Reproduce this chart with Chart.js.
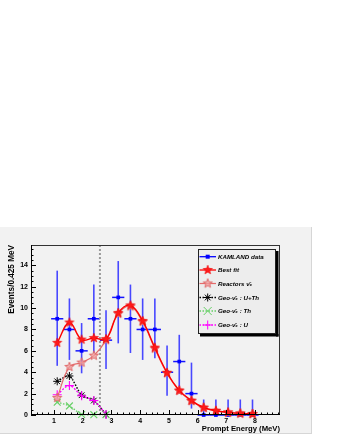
<!DOCTYPE html>
<html><head><meta charset="utf-8">
<script src="https://cdn.jsdelivr.net/npm/chart.js@4.4.0/dist/chart.umd.min.js"></script>
<style>html,body{margin:0;padding:0;background:#fff;}canvas{display:block;}</style>
</head><body>
<canvas id="c" width="337" height="436"></canvas>
<script>
// ---- data ----
const energy = [1.1125, 1.5375, 1.9625, 2.3875, 2.8125, 3.2375, 3.6625, 4.0875, 4.5125, 4.9375, 5.3625, 5.7875, 6.2125, 6.6375, 7.0625, 7.4875, 7.9125];
const binHalfWidth = 0.2125;
const kamlandData  = [9, 8, 6, 9, 7, 11, 9, 8, 8, 4, 5, 2, 0, 0, 0, 0, 0];
const kamlandUpper = [13.5, 10.9, 8.6, 12.2, 9.8, 14.4, 12.2, 10.9, 10.9, 6.5, 7.5, 4.9, 1.45, 1.45, 1.45, 1.45, 1.45];
const kamlandLower = [4.6, 5.15, 3.9, 5.8, 4.3, 6.7, 5.8, 5.15, 5.3, 1.8, 2.65, 0.6, 0, 0, 0, 0, 0];
const bestFit  = [6.75, 8.65, 7.05, 7.2, 7.1, 9.55, 10.25, 8.8, 6.3, 3.95, 2.3, 1.35, 0.7, 0.4, 0.25, 0.15, 0.1];
const reactors = [1.6, 4.5, 4.9, 5.55, 7.0, 9.45, 10.15, 8.7, 6.2, 3.9, 2.25, 1.3, 0.65, 0.38, 0.22, 0.13, 0.08];
const geoEnergy = [1.1125, 1.5375, 1.9625, 2.3875, 2.8125];
const geoUTh = [3.15, 3.65, 1.85, 1.35, 0.05];
const geoTh  = [1.2, 0.85, 0.05, 0.03, 0.03];
const geoU   = [1.9, 2.75, 1.8, 1.35, 0.05];
const thresholdEnergy = 2.6;
const xMin = 0.2, xMax = 8.87, yMin = 0, yMax = 15.9;
const legendLabels = ['KAMLAND data', 'Best fit', 'Reactors \u03BD\u0304\u2091', 'Geo-\u03BD\u0304\u2091 : U+Th', 'Geo-\u03BD\u0304\u2091 : Th', 'Geo-\u03BD\u0304\u2091 : U'];
const xTitle = 'Prompt Energy (MeV)';
const yTitle = 'Events/0.425 MeV';

const FONT = "'Liberation Sans', Arial, Helvetica, sans-serif";
const pts = (xs, ys) => xs.map((x, i) => ({x: x, y: ys[i]}));

function starCanvas(r, fill, stroke, lw) {
  const s = Math.ceil(r * 2 + 4);
  const c = document.createElement('canvas'); c.width = s; c.height = s;
  const g = c.getContext('2d');
  g.beginPath();
  for (let i = 0; i < 10; i++) {
    const rad = i % 2 === 0 ? r : r * 0.42;
    const a = -Math.PI / 2 + i * Math.PI / 5;
    const px = s / 2 + rad * Math.cos(a), py = s / 2 + rad * Math.sin(a);
    if (i === 0) g.moveTo(px, py); else g.lineTo(px, py);
  }
  g.closePath();
  g.fillStyle = fill; g.fill();
  if (stroke) { g.strokeStyle = stroke; g.lineWidth = lw; g.stroke(); }
  return c;
}
const redStar = starCanvas(4.8, '#ff1a1a', '#ee0000', 0.6);
const pinkStar = starCanvas(4.8, 'rgba(242,160,160,0.75)', '#e06a6a', 1);

const COL = {data: '#0000ff', fit: '#ff0000', reac: '#e46a6a', uth: '#000000', th: '#66d066', u: '#ff00ff', thr: '#9a9a9a'};

const bgPlugin = {
  id: 'bg',
  beforeDraw(chart) {
    const g = chart.ctx;
    g.save();
    g.fillStyle = '#ffffff'; g.fillRect(0, 0, chart.width, chart.height);
    g.fillStyle = '#f2f2f2'; g.fillRect(0, 227, 312, 207);
    g.strokeStyle = '#d6d6d6'; g.lineWidth = 1;
    g.beginPath(); g.moveTo(311.5, 227); g.lineTo(311.5, 434); g.moveTo(0, 433.5); g.lineTo(312, 433.5); g.stroke();
    g.restore();
  }
};

const errPlugin = {
  id: 'errbars',
  beforeDatasetsDraw(chart) {
    const g = chart.ctx, xs = chart.scales.x, ys = chart.scales.y;
    g.save();
    for (let i = 0; i < energy.length; i++) {
      const px = xs.getPixelForValue(energy[i]);
      g.strokeStyle = '#4848ff'; g.lineWidth = 1.6;
      g.beginPath(); g.moveTo(px, ys.getPixelForValue(kamlandLower[i])); g.lineTo(px, ys.getPixelForValue(kamlandUpper[i])); g.stroke();
      const py = ys.getPixelForValue(kamlandData[i]);
      g.strokeStyle = '#1414ff'; g.lineWidth = 1.5;
      g.beginPath(); g.moveTo(xs.getPixelForValue(energy[i] - binHalfWidth), py); g.lineTo(xs.getPixelForValue(energy[i] + binHalfWidth), py); g.stroke();
    }
    g.restore();
  }
};

const framePlugin = {
  id: 'frame',
  afterDraw(chart) {
    const g = chart.ctx, xs = chart.scales.x, ys = chart.scales.y, a = chart.chartArea;
    g.save();
    g.strokeStyle = '#000'; g.lineWidth = 1;
    g.beginPath();
    for (let k = 0; k * 0.5 <= yMax + 1e-9; k++) {
      const v = k * 0.5;
      const py = Math.round(ys.getPixelForValue(v)) + 0.5;
      const len = (k % 4 === 0) ? 5 : 2.5;
      g.moveTo(a.left, py); g.lineTo(a.left + len, py);
    }
    for (let k = 1; k * 0.2 <= xMax + 1e-9; k++) {
      const v = k * 0.2;
      const px = Math.round(xs.getPixelForValue(v)) + 0.5;
      const len = (k % 5 === 0) ? 5 : 2.5;
      g.moveTo(px, a.bottom); g.lineTo(px, a.bottom - len);
    }
    g.stroke();
    g.strokeStyle = '#333';
    g.strokeRect(Math.round(a.left) + 0.5, Math.round(a.top) + 0.5, Math.round(a.right - a.left) - 1, Math.round(a.bottom - a.top) - 1);
    g.strokeStyle = '#000';
    g.beginPath(); g.moveTo(a.left, Math.round(a.bottom) - 0.5); g.lineTo(a.right, Math.round(a.bottom) - 0.5);
    g.moveTo(Math.round(a.left) + 0.5, a.top); g.lineTo(Math.round(a.left) + 0.5, a.bottom); g.stroke();
    g.restore();
  }
};

function drawMarker(g, kind, x, y, color) {
  g.save();
  g.strokeStyle = color; g.fillStyle = color; g.lineWidth = 1; g.setLineDash([]);
  if (kind === 'square') { g.fillRect(x - 2, y - 2, 4, 4); }
  else if (kind === 'star') { g.drawImage(redStar, x - redStar.width / 2, y - redStar.height / 2); }
  else if (kind === 'starOpen') { g.drawImage(pinkStar, x - pinkStar.width / 2, y - pinkStar.height / 2); }
  else if (kind === 'asterisk') {
    const r = 4; g.beginPath();
    for (let i = 0; i < 4; i++) { const ang = i * Math.PI / 4; g.moveTo(x - r * Math.cos(ang), y - r * Math.sin(ang)); g.lineTo(x + r * Math.cos(ang), y + r * Math.sin(ang)); }
    g.stroke();
  }
  else if (kind === 'x') { const r = 4; g.beginPath(); g.moveTo(x - r, y - r); g.lineTo(x + r, y + r); g.moveTo(x + r, y - r); g.lineTo(x - r, y + r); g.stroke(); }
  else if (kind === 'plus') { const r = 4.5; g.beginPath(); g.moveTo(x - r, y); g.lineTo(x + r, y); g.moveTo(x, y - r); g.lineTo(x, y + r); g.stroke(); }
  g.restore();
}

const legendPlugin = {
  id: 'rootLegend',
  afterDraw(chart) {
    const g = chart.ctx;
    const L = 198, T = 249, R = 276, B = 334;
    g.save();
    g.fillStyle = '#000';
    g.fillRect(R, T + 2, 2.5, B - T + 0.5);
    g.fillRect(L + 2, B, R - L + 0.5, 2.5);
    g.fillStyle = '#ededed'; g.fillRect(L, T, R - L, B - T);
    g.strokeStyle = '#222'; g.lineWidth = 1; g.strokeRect(L + 0.5, T + 0.5, R - L - 1, B - T - 1);
    const entries = [
      {color: COL.data, dash: [], marker: 'square', lw: 1.3},
      {color: COL.fit, dash: [], marker: 'star', lw: 1.3},
      {color: COL.reac, dash: [], marker: 'starOpen', lw: 1.2},
      {color: COL.uth, dash: [1.5, 1.5], marker: 'asterisk', lw: 1.3},
      {color: COL.th, dash: [1.5, 1.5], marker: 'x', lw: 1.3},
      {color: COL.u, dash: [1.5, 1.5], marker: 'plus', lw: 1.3}
    ];
    const ys = [256.7, 270, 283.5, 297.5, 311, 325];
    g.font = 'italic bold 6.2px ' + FONT;
    g.textBaseline = 'middle'; g.textAlign = 'left';
    entries.forEach((e, i) => {
      const y = ys[i];
      g.strokeStyle = e.color; g.lineWidth = e.lw; g.setLineDash(e.dash);
      g.beginPath(); g.moveTo(199.5, y); g.lineTo(216, y); g.stroke();
      g.setLineDash([]);
      drawMarker(g, e.marker, 207.7, y, e.color);
      g.fillStyle = '#000';
      g.fillText(legendLabels[i], 218, y + 0.3);
    });
    g.restore();
  }
};

const ctx = document.getElementById('c').getContext('2d');
new Chart(ctx, {
  type: 'line',
  data: {
    datasets: [
      {label: 'Best fit', data: pts(energy, bestFit), borderColor: COL.fit, borderWidth: 1.4, tension: 0.4,
       pointStyle: redStar, pointRadius: 4, order: 0, clip: false},
      {label: 'Reactors', data: pts(energy, reactors), borderColor: COL.reac, borderWidth: 1.2, tension: 0.4,
       pointStyle: pinkStar, pointRadius: 4, order: 1, clip: false},
      {label: 'Geo U', data: pts(geoEnergy, geoU), borderColor: COL.u, borderWidth: 1.3, borderDash: [2, 1.5], tension: 0.35,
       pointStyle: 'cross', pointRadius: 4.5, pointBorderColor: COL.u, pointBorderWidth: 1.1, order: 2, clip: false},
      {label: 'Geo Th', data: pts(geoEnergy, geoTh), borderColor: COL.th, borderWidth: 1.3, borderDash: [1.5, 1.5], tension: 0.2,
       pointStyle: 'crossRot', pointRadius: 4.8, pointBorderColor: COL.th, pointBorderWidth: 1.2, order: 3, clip: false},
      {label: 'Geo U+Th', data: pts(geoEnergy, geoUTh), borderColor: COL.uth, borderWidth: 1.5, borderDash: [1.5, 1.5], tension: 0.25,
       pointStyle: 'star', pointRadius: 4, pointBorderColor: COL.uth, pointBorderWidth: 1, order: 4, clip: false},
      {label: 'KAMLAND data', data: pts(energy, kamlandData), showLine: false, borderColor: COL.data, backgroundColor: COL.data,
       pointStyle: 'rect', pointRadius: 2.6, pointBorderWidth: 0, order: 5, clip: false},
      {label: 'threshold', data: [{x: thresholdEnergy, y: yMin}, {x: thresholdEnergy, y: yMax}], borderColor: COL.thr,
       borderWidth: 2, borderDash: [2, 2], pointRadius: 0, order: 6}
    ]
  },
  options: {
    responsive: false, animation: false, devicePixelRatio: 1, events: [],
    layout: {padding: {left: 0, top: 245, right: 57, bottom: 0}},
    plugins: {legend: {display: false}, tooltip: {enabled: false}},
    scales: {
      x: {type: 'linear', min: xMin, max: xMax,
          afterFit: s => { s.height = 21; },
          grid: {display: false, drawTicks: false}, border: {display: false},
          ticks: {stepSize: 1, includeBounds: false, autoSkip: false, maxRotation: 0, padding: 2,
                  color: '#000', font: {family: FONT, weight: 'bold', size: 7}},
          title: {display: true, text: xTitle, align: 'end', color: '#000',
                  font: {family: FONT, weight: 'bold', size: 7.7}, padding: {top: 0, bottom: 2.5}}},
      y: {type: 'linear', min: yMin, max: yMax,
          afterFit: s => { s.width = 31; },
          grid: {display: false, drawTicks: false}, border: {display: false},
          ticks: {stepSize: 2, includeBounds: false, padding: 3,
                  color: '#000', font: {family: FONT, weight: 'bold', size: 7}},
          title: {display: true, text: yTitle, align: 'end', color: '#000',
                  font: {family: FONT, weight: 'bold', size: 8.2}, padding: {top: 6.9, bottom: 0}}}
    }
  },
  plugins: [bgPlugin, errPlugin, framePlugin, legendPlugin]
});
</script>
</body></html>
